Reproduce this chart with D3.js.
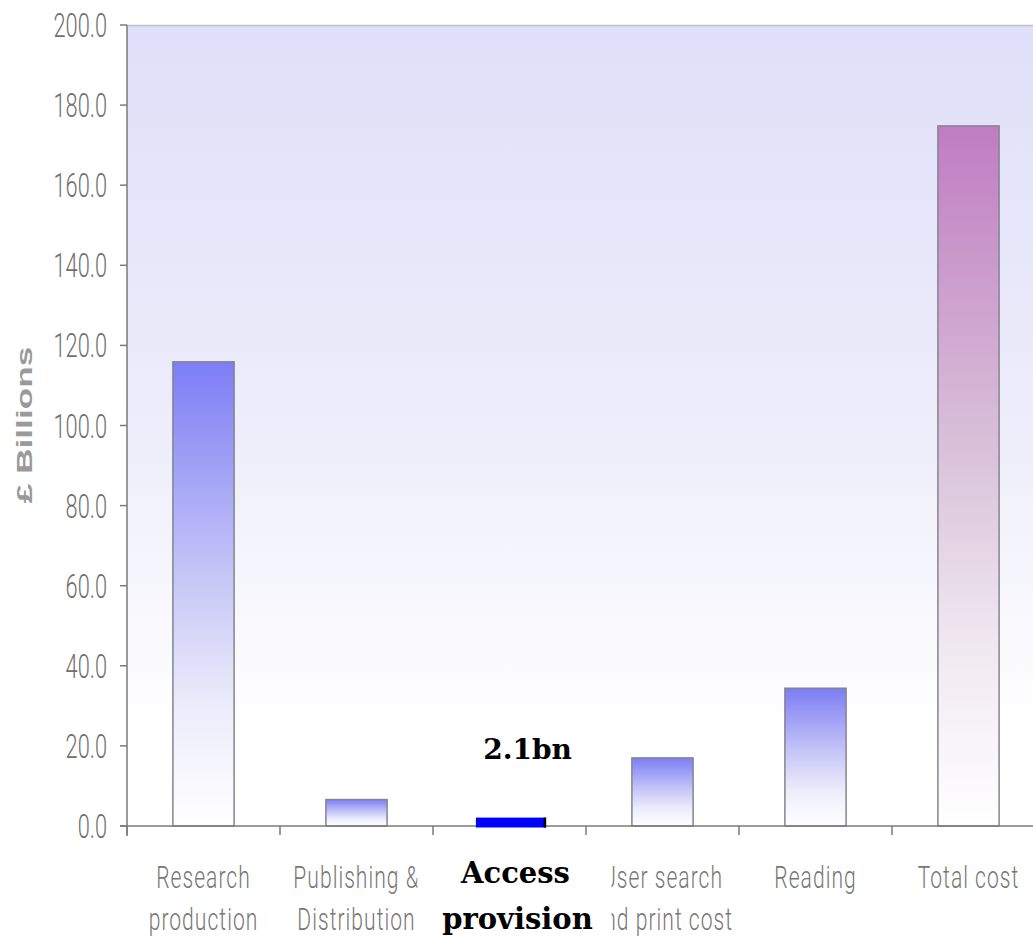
<!DOCTYPE html>
<html>
<head>
<meta charset="utf-8">
<script src="https://cdn.jsdelivr.net/npm/d3@7"></script>
<style>
  html, body { margin: 0; padding: 0; background: #ffffff; }
  svg { display: block; }
</style>
</head>
<body>
<svg id="chart" width="1033" height="939"></svg>
<script>
// Cost categories (two-line axis labels) and values in £ billions
const categories = ["Research production", "Publishing & Distribution", "Access provision",
                    "User search and print cost", "Reading", "Total cost"];
const labelLines = [["Research", "production"], ["Publishing &", "Distribution"], ["Access", "provision"],
                    ["User search", "and print cost"], ["Reading"], ["Total cost"]];
const values = [115.9, 6.6, 2.1, 17.0, 34.4, 174.8];
const highlighted = "Access provision";
const highlightLabel = "2.1bn";
const yTicks = [0, 20, 40, 60, 80, 100, 120, 140, 160, 180, 200];

const svg = d3.select("#chart");
const W = 1033, H = 939;
const plot = { left: 127, right: 1045, top: 25, bottom: 826 };

const x = d3.scaleBand().domain(categories)
  .range([plot.left, plot.right]).paddingInner(0.6).paddingOuter(0.3);
const y = d3.scaleLinear().domain([0, 200]).range([plot.bottom, plot.top]);

const defs = svg.append("defs");
const bg = defs.append("linearGradient").attr("id", "bgGrad")
  .attr("x1", 0).attr("y1", 0).attr("x2", 0).attr("y2", 1);
bg.append("stop").attr("offset", "0%").attr("stop-color", "#dfdff9");
bg.append("stop").attr("offset", "50%").attr("stop-color", "#ededfb");
bg.append("stop").attr("offset", "88%").attr("stop-color", "#ffffff");
bg.append("stop").attr("offset", "100%").attr("stop-color", "#ffffff");

function barGradient(id, top, mid, late) {
  const g = defs.append("linearGradient").attr("id", id)
    .attr("x1", 0).attr("y1", 0).attr("x2", 0).attr("y2", 1);
  g.append("stop").attr("offset", "0%").attr("stop-color", top);
  g.append("stop").attr("offset", "45%").attr("stop-color", mid);
  g.append("stop").attr("offset", "75%").attr("stop-color", late);
  g.append("stop").attr("offset", "100%").attr("stop-color", "#ffffff");
}
barGradient("blueGrad", "#7d7df6", "#c4c4f7", "#ededfb");
barGradient("plumGrad", "#c07cc2", "#d8c0d8", "#f1e9f1");

// plot background
svg.append("rect")
  .attr("x", plot.left).attr("y", plot.top)
  .attr("width", W - plot.left).attr("height", plot.bottom - plot.top)
  .attr("fill", "url(#bgGrad)");
svg.append("line")
  .attr("x1", plot.left).attr("x2", W)
  .attr("y1", plot.top + 0.5).attr("y2", plot.top + 0.5)
  .attr("stroke", "#bdbdce").attr("stroke-width", 1.5);

// bars
const data = categories.map((c, i) => ({ c, v: values[i], i }));
svg.append("g").selectAll("rect")
  .data(data.filter(d => d.c !== highlighted))
  .join("rect")
  .attr("x", d => x(d.c))
  .attr("y", d => y(d.v))
  .attr("width", x.bandwidth())
  .attr("height", d => y(0) - y(d.v))
  .attr("fill", d => d.c === "Total cost" ? "url(#plumGrad)" : "url(#blueGrad)")
  .attr("stroke", "#85858f").attr("stroke-width", 1.5);

// axes
const axisColor = "#7a7a7a";
svg.append("line")
  .attr("x1", plot.left).attr("x2", plot.left)
  .attr("y1", plot.top).attr("y2", plot.bottom + 10)
  .attr("stroke", axisColor).attr("stroke-width", 1.5);
svg.append("line")
  .attr("x1", plot.left - 7).attr("x2", W)
  .attr("y1", plot.bottom).attr("y2", plot.bottom)
  .attr("stroke", axisColor).attr("stroke-width", 1.5);

// y ticks and labels
const yg = svg.append("g");
yg.selectAll("line").data(yTicks).join("line")
  .attr("x1", plot.left - 7).attr("x2", plot.left)
  .attr("y1", d => y(d)).attr("y2", d => y(d))
  .attr("stroke", axisColor).attr("stroke-width", 1.5);
const sx = 0.64;
yg.selectAll("text").data(yTicks).join("text")
  .attr("transform", d => `translate(107,${y(d) + 12}) scale(${sx},1)`)
  .attr("text-anchor", "end")
  .attr("font-family", "Roboto, Liberation Sans, sans-serif")
  .attr("font-weight", 300)
  .attr("font-size", 34)
  .attr("fill", "#6f6f6f")
  .text(d => d3.format(".1f")(d));

// x ticks at band boundaries
const bounds = d3.range(categories.length + 1).map(i => plot.left + i * x.step());
svg.append("g").selectAll("line").data(bounds.filter(b => b < W)).join("line")
  .attr("x1", d => d).attr("x2", d => d)
  .attr("y1", plot.bottom).attr("y2", plot.bottom + 9)
  .attr("stroke", axisColor).attr("stroke-width", 1.5);

// category labels
const xl = svg.append("g");
data.filter(d => d.c !== highlighted).forEach(d => {
  const cx = x(d.c) + x.bandwidth() / 2;
  labelLines[d.i].forEach((t, k) => {
    xl.append("text")
      .attr("transform", `translate(${cx},${888 + k * 42}) scale(0.68,1)`)
      .attr("text-anchor", "middle")
      .attr("font-family", "Roboto, Liberation Sans, sans-serif")
      .attr("font-weight", 300)
      .attr("font-size", 31)
      .attr("letter-spacing", 1.5)
      .attr("fill", "#777777")
      .text(t);
  });
});

// y-axis title
svg.append("text")
  .attr("transform", "translate(32,425) rotate(-90) scale(1.6,1)")
  .attr("text-anchor", "middle")
  .attr("font-family", "Liberation Sans, Arial, sans-serif")
  .attr("font-weight", "bold")
  .attr("font-size", 22)
  .attr("fill", "#9a9a9a")
  .text("£ Billions");

// highlighted category: solid blue bar, value label and bold label on white
const hd = data.find(d => d.c === highlighted);
const hx = x(hd.c) - 3, hw = x.bandwidth() + 9;
svg.append("rect")
  .attr("x", hx).attr("y", y(hd.v))
  .attr("width", hw).attr("height", y(0) - y(hd.v) + 1.5)
  .attr("fill", "#0000ff");
svg.append("rect")
  .attr("x", hx + hw - 2.5).attr("y", y(hd.v))
  .attr("width", 2.5).attr("height", y(0) - y(hd.v) + 1.5)
  .attr("fill", "#000000");

svg.append("text")
  .attr("x", x(hd.c) + x.bandwidth() / 2 + 18).attr("y", 759)
  .attr("text-anchor", "middle")
  .attr("font-family", "DejaVu Serif, serif")
  .attr("font-weight", "bold")
  .attr("font-size", 28)
  .attr("fill", "#000000")
  .text(highlightLabel);

const hcx = x(hd.c) + x.bandwidth() / 2;
svg.append("rect")
  .attr("x", hcx - 92).attr("y", 843)
  .attr("width", 194).attr("height", H - 843)
  .attr("fill", "#ffffff");
labelLines[hd.i].forEach((t, k) => {
  svg.append("text")
    .attr("x", hcx + 6 + k * 2).attr("y", 883 + k * 46)
    .attr("text-anchor", "middle")
    .attr("font-family", "DejaVu Serif, serif")
    .attr("font-weight", "bold")
    .attr("font-size", 29)
    .attr("fill", "#000000")
    .text(t);
});
</script>
</body>
</html>
